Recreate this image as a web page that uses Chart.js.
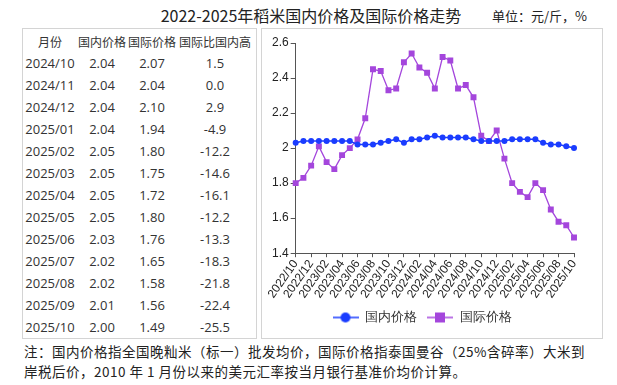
<!DOCTYPE html>
<html>
<head>
<meta charset="utf-8">
<script src="https://cdn.jsdelivr.net/npm/chart.js@4"></script>
<style>
  body { margin: 0; background: #fff; font-family: "Noto Sans CJK SC", "Noto Sans", sans-serif; color: #222; }
  #wrap { position: relative; width: 617px; height: 385px; }
  #title { position: absolute; left: 0; top: 3px; width: 622px; text-align: center; font-size: 16px; }
  #unit { position: absolute; left: 492px; top: 6px; font-size: 13px; }
  #tblBox { position: absolute; left: 22px; top: 28px; width: 233px; height: 309px; border: 1px solid #d4d4d4; }
  table { border-collapse: collapse; font-family: "Open Sans", "Noto Sans CJK SC", sans-serif; font-size: 13px; color: #333; margin-top: 1px; }
  td, th { padding: 0; height: 22px; text-align: center; font-weight: normal; white-space: nowrap; }
  th { font-family: "Noto Sans CJK SC", sans-serif; font-size: 12px; }
  #chartBox { position: absolute; left: 261px; top: 28px; width: 340px; height: 309px; border: 1px solid #d4d4d4; }
  #note { position: absolute; left: 24px; top: 341px; font-size: 13.5px; line-height: 20px; color: #222; letter-spacing: 0.5px; }
</style>
</head>
<body>
<div id="wrap">
  <div id="title">2022-2025年稻米国内价格及国际价格走势</div>
  <div id="unit">单位：元/斤，%</div>
  <div id="tblBox"><table id="tbl"></table></div>
  <div id="chartBox"><canvas id="priceChart" width="340" height="309"></canvas></div>
  <div id="note">注：国内价格指全国晚籼米（标一）批发均价，国际价格指泰国曼谷（25%含碎率）大米到<br>岸税后价，2010 年 1 月份以来的美元汇率按当月银行基准价均价计算。</div>
</div>
<script>
const months = [
    "2022/10", "2022/11", "2022/12", "2023/01", "2023/02", "2023/03", "2023/04", "2023/05",
    "2023/06", "2023/07", "2023/08", "2023/09", "2023/10", "2023/11", "2023/12", "2024/01",
    "2024/02", "2024/03", "2024/04", "2024/05", "2024/06", "2024/07", "2024/08", "2024/09",
    "2024/10", "2024/11", "2024/12", "2025/01", "2025/02", "2025/03", "2025/04", "2025/05",
    "2025/06", "2025/07", "2025/08", "2025/09", "2025/10",
];
const domestic = [
    2.03, 2.04, 2.04, 2.04, 2.04, 2.04, 2.04, 2.04, 2.02, 2.02, 2.02, 2.03,
    2.04, 2.05, 2.03, 2.05, 2.05, 2.06, 2.07, 2.06, 2.06, 2.06, 2.06, 2.05,
    2.04, 2.04, 2.04, 2.04, 2.05, 2.05, 2.05, 2.05, 2.03, 2.02, 2.02, 2.01, 2.00,
];
const international = [
    1.80, 1.83, 1.90, 2.01, 1.92, 1.88, 1.96, 2.00, 2.05, 2.17, 2.45, 2.44,
    2.33, 2.34, 2.49, 2.54, 2.46, 2.43, 2.34, 2.52, 2.50, 2.34, 2.36, 2.29,
    2.07, 2.04, 2.10, 1.94, 1.80, 1.75, 1.72, 1.80, 1.76, 1.65, 1.58, 1.56, 1.49,
];
const gapPct = [1.5, 0.0, 2.9, -4.9, -12.2, -14.6, -16.1, -12.2, -13.3, -18.3, -21.8, -22.4, -25.5];
const yTicks = [1.4, 1.6, 1.8, 2.0, 2.2, 2.4, 2.6];

const BLUE = "#1a3cff";
const PURPLE = "#a446dc";

// table: last 13 months
const tbl = document.getElementById("tbl");
const colW = [54, 50, 50, 76];
let html = "<tr>" + ["月份", "国内价格", "国际价格", "国际比国内高"].map((h, i) =>
    `<th style="width:${colW[i]}px">${h}</th>`).join("") + "</tr>";
const start = months.length - gapPct.length;
gapPct.forEach((g, i) => {
    const k = start + i;
    html += `<tr><td>${months[k]}</td><td>${domestic[k].toFixed(2)}</td>` +
        `<td>${international[k].toFixed(2)}</td><td>${g.toFixed(1)}</td></tr>`;
});
tbl.innerHTML = html;

function legendIcon(color, style) {
    const c = document.createElement("canvas");
    c.width = 26; c.height = 12;
    const g = c.getContext("2d");
    g.strokeStyle = color; g.lineWidth = 1.5;
    g.beginPath(); g.moveTo(0, 6); g.lineTo(26, 6); g.stroke();
    g.fillStyle = color;
    if (style === "circle") { g.beginPath(); g.arc(13, 6, 5, 0, Math.PI * 2); g.fill(); }
    else g.fillRect(8, 1, 10, 10);
    return c;
}

new Chart(document.getElementById("priceChart"), {
    type: "line",
    data: {
        labels: months,
        datasets: [
            {
                label: "国内价格", data: domestic,
                borderColor: BLUE, backgroundColor: BLUE, borderWidth: 1.5,
                pointStyle: "circle", pointRadius: 3, pointBorderWidth: 0,
            },
            {
                label: "国际价格", data: international,
                borderColor: PURPLE, backgroundColor: PURPLE, borderWidth: 1.3,
                pointStyle: "rect", pointRadius: 4.2, pointBorderWidth: 0,
            },
        ],
    },
    options: {
        responsive: false,
        animation: false,
        layout: { padding: { left: 8, right: 28, top: 14, bottom: 4 } },
        scales: {
            x: {
                offset: false,
                grid: { drawOnChartArea: false, tickLength: 4, color: ctx => ctx.index % 2 ? "rgba(0,0,0,0)" : "#555" },
                border: { color: "#555" },
                ticks: {
                    autoSkip: false, maxRotation: 55, minRotation: 55, padding: 0,
                    color: "#222", font: { size: 12 },
                    callback: (v, i) => i % 2 ? "" : months[i],
                },
            },
            y: {
                min: 1.4, max: 2.6,
                afterBuildTicks: ax => { ax.ticks = yTicks.map(v => ({ value: v })); },
                grid: { drawOnChartArea: false, tickLength: 5, color: "#555" },
                border: { color: "#555" },
                ticks: { color: "#222", font: { size: 12 }, padding: 2, callback: v => String(+v.toFixed(1)) },
            },
        },
        plugins: {
            legend: {
                position: "bottom",
                labels: {
                    usePointStyle: true, pointStyleWidth: 26, color: "#333", font: { size: 13 }, padding: 10,
                    generateLabels: chart => chart.data.datasets.map((d, i) => ({
                        text: d.label, datasetIndex: i, fontColor: "#333",
                        pointStyle: legendIcon(d.borderColor, d.pointStyle),
                    })),
                },
            },
            tooltip: { enabled: false },
        },
    },
});
</script>
</body>
</html>
